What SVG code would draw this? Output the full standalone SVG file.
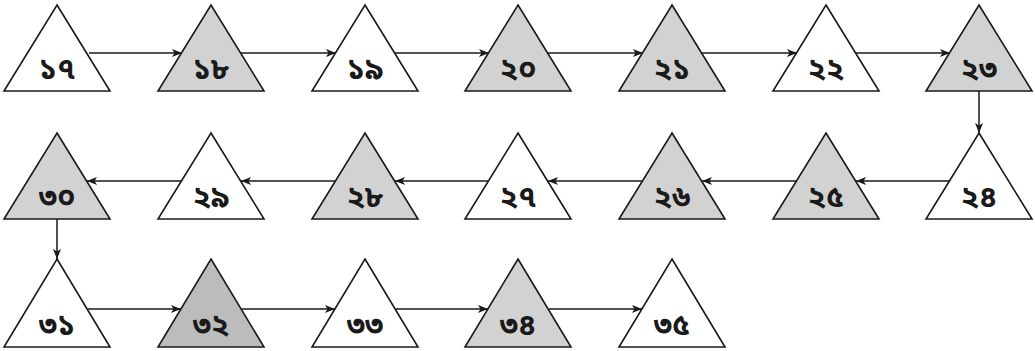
<svg xmlns="http://www.w3.org/2000/svg" width="1035" height="351" viewBox="0 0 1035 351">
<style>
.t{stroke:#1a1a1a;stroke-width:1.6;stroke-linejoin:miter}
.w{fill:#ffffff}
.g{fill:#d2d2d2}
.d{fill:#bcbcbc}
.l{font-family:"Noto Sans Bengali","Noto Serif Bengali","Lohit Bengali","Noto Sans",sans-serif;font-size:30px;font-weight:bold;fill:#1a1a1a;text-anchor:middle}
.c{stroke:#1a1a1a;stroke-width:1.5;fill:none;marker-end:url(#a)}
</style>
<defs>
<marker id="a" viewBox="0 0 10 8" refX="10" refY="4" markerWidth="10" markerHeight="8" markerUnits="userSpaceOnUse" orient="auto">
<path d="M0,0 L10,4 L0,8 L2.5,4 Z" fill="#1a1a1a"/>
</marker>
</defs>
<rect width="1035" height="351" fill="#ffffff"/>
<g id="connectors">
<line class="c" x1="89" y1="53" x2="182" y2="53"/>
<line class="c" x1="241" y1="53" x2="336" y2="53"/>
<line class="c" x1="395" y1="53" x2="489" y2="53"/>
<line class="c" x1="548" y1="53" x2="643" y2="53"/>
<line class="c" x1="702" y1="53" x2="797" y2="53"/>
<line class="c" x1="856" y1="53" x2="950" y2="53"/>
<line class="c" x1="979" y1="91" x2="979" y2="133"/>
<line class="c" x1="950" y1="181" x2="856" y2="181"/>
<line class="c" x1="797" y1="181" x2="702" y2="181"/>
<line class="c" x1="643" y1="181" x2="548" y2="181"/>
<line class="c" x1="489" y1="181" x2="395" y2="181"/>
<line class="c" x1="336" y1="181" x2="241" y2="181"/>
<line class="c" x1="182" y1="181" x2="87" y2="181"/>
<line class="c" x1="57" y1="219" x2="57" y2="259"/>
<line class="c" x1="88" y1="309" x2="181" y2="309"/>
<line class="c" x1="242" y1="309" x2="335" y2="309"/>
<line class="c" x1="396" y1="309" x2="488" y2="309"/>
<line class="c" x1="549" y1="309" x2="642" y2="309"/>
</g>
<g id="n17"><polygon class="t w" points="57,5 110,91 4,91"/><text class="l" x="57" y="79">১৭</text></g>
<g id="n18"><polygon class="t g" points="211,5 264,91 158,91"/><text class="l" x="211" y="79">১৮</text></g>
<g id="n19"><polygon class="t w" points="365,5 418,91 312,91"/><text class="l" x="365" y="79">১৯</text></g>
<g id="n20"><polygon class="t g" points="518,5 571,91 465,91"/><text class="l" x="518" y="79">২০</text></g>
<g id="n21"><polygon class="t g" points="672,5 725,91 619,91"/><text class="l" x="672" y="79">২১</text></g>
<g id="n22"><polygon class="t w" points="826,5 879,91 773,91"/><text class="l" x="826" y="79">২২</text></g>
<g id="n23"><polygon class="t g" points="979,5 1032,91 926,91"/><text class="l" x="979" y="79">২৩</text></g>
<g id="n24"><polygon class="t w" points="979,133 1032,219 926,219"/><text class="l" x="979" y="207">২৪</text></g>
<g id="n25"><polygon class="t g" points="826,133 879,219 773,219"/><text class="l" x="826" y="207">২৫</text></g>
<g id="n26"><polygon class="t g" points="672,133 725,219 619,219"/><text class="l" x="672" y="207">২৬</text></g>
<g id="n27"><polygon class="t w" points="518,133 571,219 465,219"/><text class="l" x="518" y="207">২৭</text></g>
<g id="n28"><polygon class="t g" points="365,133 418,219 312,219"/><text class="l" x="365" y="207">২৮</text></g>
<g id="n29"><polygon class="t w" points="211,133 264,219 158,219"/><text class="l" x="211" y="207">২৯</text></g>
<g id="n30"><polygon class="t g" points="57,133 110,219 4,219"/><text class="l" x="57" y="207">৩০</text></g>
<g id="n31"><polygon class="t w" points="57,259 110,347 4,347"/><text class="l" x="57" y="335">৩১</text></g>
<g id="n32"><polygon class="t d" points="211,259 264,347 158,347"/><text class="l" x="211" y="335">৩২</text></g>
<g id="n33"><polygon class="t w" points="365,259 418,347 312,347"/><text class="l" x="365" y="335">৩৩</text></g>
<g id="n34"><polygon class="t g" points="518,259 571,347 465,347"/><text class="l" x="518" y="335">৩৪</text></g>
<g id="n35"><polygon class="t w" points="672,259 725,347 619,347"/><text class="l" x="672" y="335">৩৫</text></g>
</svg>
